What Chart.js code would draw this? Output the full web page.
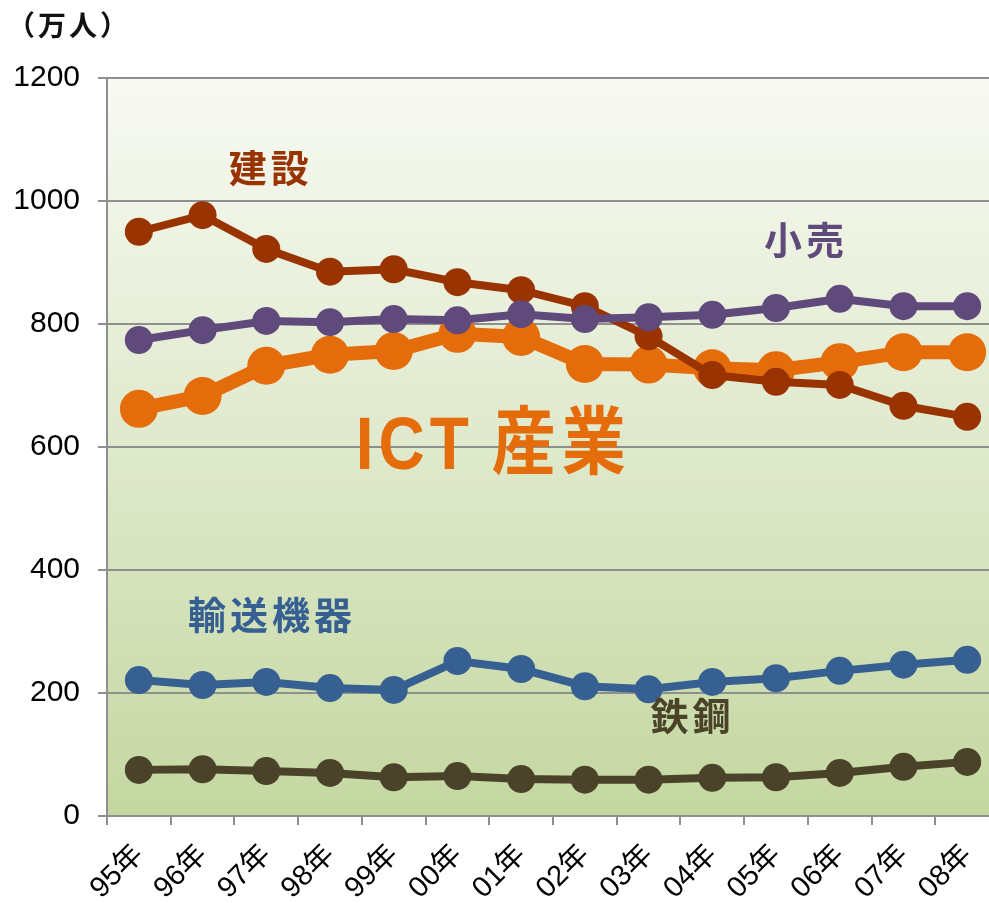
<!DOCTYPE html>
<html>
<head>
<meta charset="utf-8">
<script src="https://cdn.jsdelivr.net/npm/chart.js@4.4.1/dist/chart.umd.min.js"></script>
<style>
  html, body { margin: 0; padding: 0; background: #fff; overflow: hidden; }
  #wrap { width: 1018px; height: 903px; position: relative; }
</style>
</head>
<body>
<div id="wrap"><canvas id="chart"></canvas></div>
<script>
const years = ['95年', '96年', '97年', '98年', '99年', '00年', '01年', '02年', '03年', '04年', '05年', '06年', '07年', '08年']
const construction = [950, 977, 922, 885, 889, 868, 855, 829, 780, 717, 706, 701, 667, 649]
const retail = [774, 790, 805, 803, 808, 806, 816, 808, 811, 815, 826, 841, 829, 829]
const ict = [662, 683, 732, 750, 756, 784, 779, 735, 734, 728, 725, 738, 754, 754]
const transport = [221, 213, 218, 208, 205, 252, 239, 211, 206, 218, 224, 236, 246, 254]
const steel = [75, 76, 73, 70, 63, 65, 60, 59, 59, 62, 63, 70, 80, 88]
const yTicks = [0, 200, 400, 600, 800, 1000, 1200]

const colors = {
    construction: '#993300',
    retail: '#604a7b',
    ict: '#e46c0a',
    transport: '#376092',
    steel: '#4a4329',
    grid: '#8f8f8f',
}

const cjk = '"Noto Sans CJK JP", sans-serif'
const latin = '"Liberation Sans", Arial, "Noto Sans CJK JP", sans-serif'

// series names written inside the plot (x as category index, y as value)
const seriesLabels = [
    {text: '建設', color: colors.construction, x: 2.07, y: 1055, size: 38},
    {text: '小売', color: colors.retail, x: 10.47, y: 937, size: 38},
    {text: '輸送機器', color: colors.transport, x: 2.09, y: 327, size: 38},
    {text: '鉄鋼', color: colors.steel, x: 8.69, y: 163, size: 38},
]

const plotBackground = {
    id: 'plotBackground',
    beforeDraw: (chart) => {
        const ctx = chart.ctx
        const a = chart.chartArea
        const g = ctx.createLinearGradient(0, a.top, 0, a.bottom)
        g.addColorStop(0, '#f8faf3')
        g.addColorStop(0.5, '#dfe9cc')
        g.addColorStop(1, '#c4d7a0')
        ctx.save()
        ctx.fillStyle = g
        ctx.fillRect(a.left, a.top, a.right - a.left, a.bottom - a.top)
        ctx.restore()
    }
}

const textLabels = {
    id: 'textLabels',
    afterDraw: (chart) => {
        const ctx = chart.ctx
        const xs = chart.scales.x
        const ys = chart.scales.y
        ctx.save()
        ctx.textAlign = 'center'
        ctx.textBaseline = 'middle'
        seriesLabels.forEach(l => {
            ctx.fillStyle = l.color
            ctx.font = 'bold ' + l.size + 'px ' + cjk
            ctx.letterSpacing = '4px'
            ctx.fillText(l.text, xs.getPixelForValue(l.x), ys.getPixelForValue(l.y))
        })
        // big ICT label, a bit taller than wide
        const cx = xs.getPixelForValue(5.54)
        const cy = ys.getPixelForValue(597)
        ctx.translate(cx, cy)
        ctx.scale(1, 1.15)
        ctx.fillStyle = colors.ict
        ctx.textAlign = 'left'
        ctx.letterSpacing = '5px'
        ctx.font = 'bold 64px ' + latin
        ctx.fillText('ICT', -136, 0)
        ctx.letterSpacing = '6px'
        ctx.font = 'bold 64px ' + cjk
        ctx.fillText('産業', 0, -8)
        ctx.restore()

        // unit
        ctx.save()
        ctx.fillStyle = '#111'
        ctx.font = 'bold 28px ' + cjk
        ctx.letterSpacing = '3px'
        ctx.textAlign = 'left'
        ctx.textBaseline = 'middle'
        ctx.fillText('（万人）', 7, 25)
        ctx.restore()
    }
}

function series(label, data, color, lineWidth, radius, order) {
    return {
        label: label,
        data: data,
        borderColor: color,
        backgroundColor: color,
        pointBackgroundColor: color,
        pointBorderWidth: 0,
        borderWidth: lineWidth,
        pointRadius: radius,
        pointHoverRadius: radius,
        tension: 0,
        order: order,
    }
}

new Chart(document.getElementById('chart'), {
    type: 'line',
    data: {
        labels: years,
        datasets: [
            series('ICT産業', ict, colors.ict, 14, 19, 3),
            series('建設', construction, colors.construction, 8, 14, 2),
            series('小売', retail, colors.retail, 8, 14, 1),
            series('輸送機器', transport, colors.transport, 8, 14, 1),
            series('鉄鋼', steel, colors.steel, 8, 14, 1),
        ]
    },
    plugins: [plotBackground, textLabels],
    options: {
        responsive: true,
        maintainAspectRatio: false,
        animation: false,
        layout: { padding: { top: 78, right: 0, left: 0, bottom: 0 } },
        plugins: {
            legend: { display: false },
            tooltip: { enabled: false },
        },
        scales: {
            x: {
                offset: true,
                afterFit: (scale) => { scale.height = 87 },
                grid: {
                    offset: true,
                    drawOnChartArea: false,
                    drawTicks: true,
                    tickLength: 9,
                    color: colors.grid,
                    lineWidth: 2,
                },
                border: { color: colors.grid, width: 2 },
                ticks: {
                    minRotation: 45,
                    maxRotation: 45,
                    padding: 13,
                    color: '#000',
                    font: { family: latin, size: 29 },
                },
            },
            y: {
                min: 0,
                max: 1200,
                afterFit: (scale) => { scale.width = 107 },
                afterBuildTicks: (scale) => { scale.ticks = yTicks.map(v => ({value: v})) },
                grid: {
                    color: colors.grid,
                    lineWidth: 2,
                    tickLength: 9,
                },
                border: { color: colors.grid, width: 2 },
                ticks: {
                    padding: 18,
                    color: '#000',
                    font: { family: latin, size: 30 },
                    callback: (value) => String(value),
                },
            }
        }
    }
})
</script>
</body>
</html>
